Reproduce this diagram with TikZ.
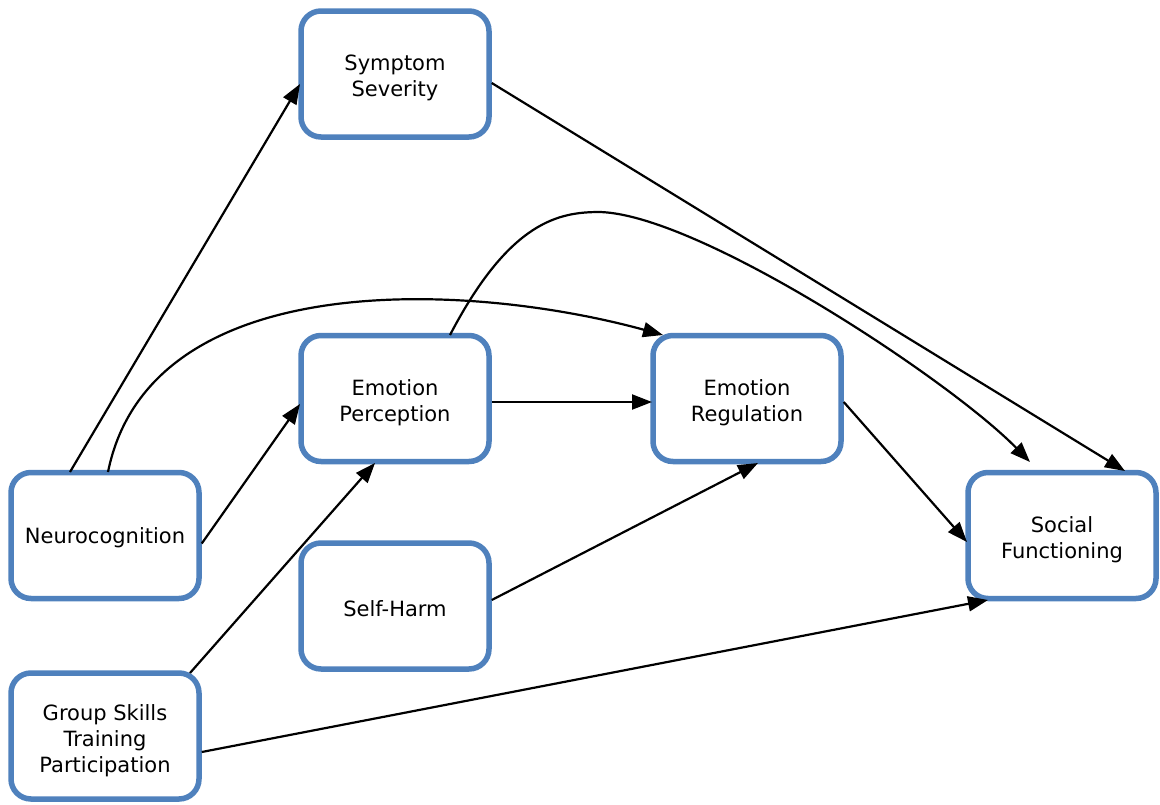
\documentclass[tikz,border=0pt]{standalone}
\usepackage{fontspec}
\setmainfont{DejaVu Sans}
\usetikzlibrary{arrows.meta}
\definecolor{boxblue}{HTML}{4F81BD}
\begin{document}
\begin{tikzpicture}[x=1pt,y=-1pt,
  box/.style={draw=boxblue,line width=5.5pt,rounded corners=20pt,fill=white,
    minimum width=188pt,minimum height=126pt,inner sep=0pt},
  txt/.style={align=center,font=\fontsize{21}{26}\selectfont,inner sep=0pt},
  arr/.style={line width=2.2pt,-{Triangle[length=20pt,width=15pt]}}]
\useasboundingbox (0,0) rectangle (1160,804);
\node[box] (ss) at (395,74) {};
\node[txt] (sst) at (395,78) {Symptom\\Severity};
\node[box] (ep) at (395,398.5) {};
\node[txt] (ept) at (395,402.5) {Emotion\\Perception};
\node[box] (er) at (747,398.5) {};
\node[txt] (ert) at (747,402.5) {Emotion\\Regulation};
\node[box] (nc) at (105,535.5) {};
\node[txt] (nct) at (105,538) {Neurocognition};
\node[box] (sh) at (395,606) {};
\node[txt] (sht) at (395,608.5) {Self-Harm};
\node[box] (sf) at (1062,535.5) {};
\node[txt] (sft) at (1062,539.5) {Social\\Functioning};
\node[box] (gs) at (105,736) {};
\node[txt] (gst) at (105,740.5) {Group Skills\\Training\\Participation};
\coordinate (nc1) at (70,472);
\coordinate (nc2) at (108,472);
\coordinate (ep1) at (450,335);
\draw[arr] (nc1) -- (300,84);
\draw[arr] (nc2) .. controls (150,265) and (470,282) .. (663,335);
\draw[arr] (nc.east) ++(0,8) -- (300,404);
\draw[arr] (ep.east) ++(0,3.5) -- (652,402);
\draw[arr] (ep1) .. controls (510,220) and (560,212) .. (600,212)
  .. controls (700,215) and (950,380) .. (1030,462);
\draw[arr] (ss.east) ++(0,9) -- (1125,471);
\draw[arr] (er.east) ++(0,3.5) -- (967,542);
\draw[arr] (sh.east) ++(0,-6) -- (758,463);
\draw[arr] (190,673) -- (375,463);
\draw[arr] (gs.east) ++(0,16) -- (988,600);
\end{tikzpicture}
\end{document}
